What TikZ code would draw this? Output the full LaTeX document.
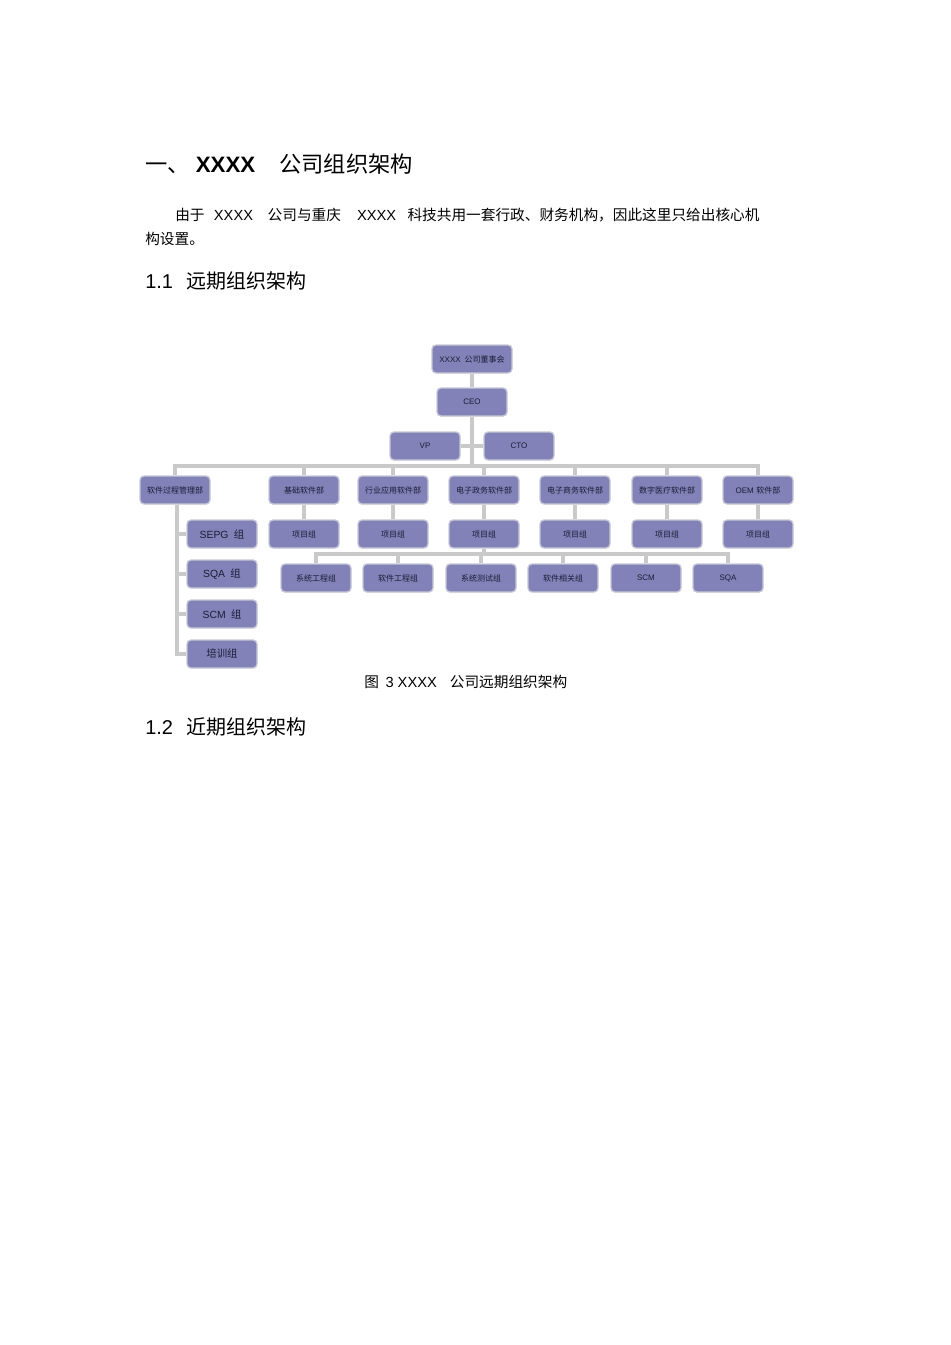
\documentclass[tikz,border=0pt]{standalone}
\usepackage{fontspec}
\setmainfont{Liberation Sans}
\newfontfamily\cjk{Noto Sans CJK SC}
\usetikzlibrary{backgrounds}
\definecolor{boxfill}{HTML}{8282B8}
\definecolor{boxline}{HTML}{C6C6D6}
\definecolor{linkgray}{HTML}{C9C9C9}
\definecolor{boxtext}{HTML}{1C1C38}

\begin{document}
\begin{tikzpicture}[x=0.75pt,y=-0.75pt]

\tikzset{unit/.style = {shape=rectangle,draw=boxline,fill=boxfill,rounded corners=3pt,line width=1pt,minimum width=52.5pt,minimum height=21pt,inner sep=0pt,text=boxtext,font=\cjk\fontsize{6}{7}\selectfont}}
\tikzset{group/.style = {unit,font=\cjk\fontsize{7.8}{9}\selectfont}}
\tikzset{link/.style = {draw=linkgray,line width=2.8pt}}
\tikzset{txt/.style = {anchor=base west,inner sep=0pt}}

\useasboundingbox (0,0) rectangle (950,1345);

%texts
\node[txt, font=\fontsize{16.7}{20}\selectfont] (title) at (145,172) {{\cjk 一、}\hspace{4.5pt}\textbf{XXXX}\hspace{18pt}{\cjk 公司组织架构}};
\node[txt, font=\fontsize{11}{13}\selectfont] (para1) at (175,220.5) {{\cjk 由于}\hspace{7pt}XXXX\hspace{11pt}{\cjk 公司与重庆}\hspace{12pt}XXXX\hspace{8.5pt}{\cjk 科技共用一套行政、财务机构，因此这里只给出核心机}};
\node[txt, font=\fontsize{11}{13}\selectfont] (para2) at (145,244.5) {{\cjk 构设置。}};
\node[txt, font=\fontsize{15}{18}\selectfont] (sec1) at (145,288.5) {1.1\hspace{10pt}{\cjk 远期组织架构}};
\node[txt, font=\fontsize{11}{13}\selectfont] (caption) at (364,687.5) {{\cjk 图}\hspace{5pt}3\hspace{3pt}XXXX\hspace{9.75pt}{\cjk 公司远期组织架构}};
\node[txt, font=\fontsize{15}{18}\selectfont] (sec2) at (145,734.5) {1.2\hspace{10pt}{\cjk 近期组织架构}};

%top
\node[unit, minimum width=60pt] (board) at (472,359) {{\rmfamily XXXX}\hspace{3pt}公司董事会};
\node[unit] (ceo) at (472,402) {{\rmfamily CEO}};
\node[unit] (vp) at (425,446) {{\rmfamily VP}};
\node[unit] (cto) at (519,446) {{\rmfamily CTO}};
\coordinate (bus) at (472,466);

%departments
\node[unit] (spm) at (175,490) {软件过程管理部};
\node[unit] (jc) at (304,490) {基础软件部};
\node[unit] (hy) at (393,490) {行业应用软件部};
\node[unit] (zw) at (484,490) {电子政务软件部};
\node[unit] (sw) at (575,490) {电子商务软件部};
\node[unit] (yl) at (667,490) {数字医疗软件部};
\node[unit] (oem) at (758,490) {{\rmfamily OEM}\hspace{2pt}软件部};

%project groups
\node[unit] (p1) at (304,534) {项目组};
\node[unit] (p2) at (393,534) {项目组};
\node[unit] (p3) at (484,534) {项目组};
\node[unit] (p4) at (575,534) {项目组};
\node[unit] (p5) at (667,534) {项目组};
\node[unit] (p6) at (758,534) {项目组};

%process groups
\node[group] (sepg) at (222,534) {{\rmfamily SEPG}\hspace{4pt}组};
\node[group] (sqa) at (222,574) {{\rmfamily SQA}\hspace{4pt}组};
\node[group] (scm) at (222,614) {{\rmfamily SCM}\hspace{4pt}组};
\node[group] (px) at (222,654) {培训组};

%teams
\coordinate (bus2) at (484,554);
\node[unit] (xt) at (316,578) {系统工程组};
\node[unit] (rj) at (398,578) {软件工程组};
\node[unit] (cs) at (481,578) {系统测试组};
\node[unit] (xg) at (563,578) {软件相关组};
\node[unit] (tscm) at (646,578) {{\rmfamily SCM}};
\node[unit] (tsqa) at (728,578) {{\rmfamily SQA}};

%links
\begin{scope}[on background layer]
\draw[link] (board) -- (ceo);
\draw[link] (ceo) -- (bus);
\draw[link] (vp) -- (cto);
\foreach \d in {spm,jc,hy,zw,sw,yl,oem}
  \draw[link] (bus) -| (\d);
\draw[link] (jc) -- (p1);
\draw[link] (hy) -- (p2);
\draw[link] (zw) -- (p3);
\draw[link] (sw) -- (p4);
\draw[link] (yl) -- (p5);
\draw[link] (oem) -- (p6);
\foreach \g in {sepg,sqa,scm,px}
  \draw[link] ([xshift=1.5pt]spm.south) |- (\g);
\draw[link] (p3) -- (bus2);
\foreach \t in {xt,rj,cs,xg,tscm,tsqa}
  \draw[link] (bus2) -| (\t);
\end{scope}

\end{tikzpicture}
\end{document}
